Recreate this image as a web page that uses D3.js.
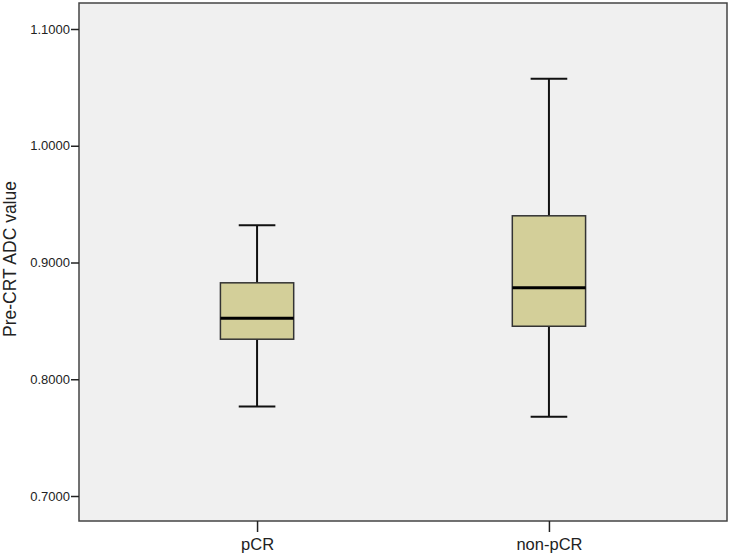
<!DOCTYPE html>
<html>
<head>
<meta charset="utf-8">
<script src="https://cdn.jsdelivr.net/npm/d3@7"></script>
<style>
  body { margin: 0; background: #fff; }
  svg { display: block; font-family: Arial, "Liberation Sans", sans-serif; }
</style>
</head>
<body>
<svg id="chart" width="732" height="557"></svg>
<script>
// groups and their box plot summaries
const groups = ["pCR", "non-pCR"];
const whiskerLow = [0.7767, 0.7678];
const q1 = [0.8343, 0.8454];
const median = [0.8523, 0.8783];
const q3 = [0.8826, 0.9400];
const whiskerHigh = [0.9320, 1.0573];
const yTicks = [0.7, 0.8, 0.9, 1.0, 1.1];

const svg = d3.select('#chart');
const plot = { left: 79, top: 3, right: 727, bottom: 521 };

const x = d3.scalePoint().domain(groups).range([plot.left, plot.right]).padding(0.61);
const y = d3.scaleLinear().domain([0.67859, 1.12227]).range([plot.bottom, plot.top]);

// plot background
svg.append('rect')
  .attr('x', plot.left).attr('y', plot.top)
  .attr('width', plot.right - plot.left).attr('height', plot.bottom - plot.top)
  .attr('fill', '#f0f0f0');

const boxW = x.step() * 0.251;
const capW = boxW / 2;

const data = groups.map((g, i) => ({
  g: g, lo: whiskerLow[i], q1: q1[i], med: median[i], q3: q3[i], hi: whiskerHigh[i]
}));

const box = svg.selectAll('.box').data(data).enter().append('g').attr('class', 'box');

// whiskers
box.append('line')
  .attr('x1', d => x(d.g)).attr('x2', d => x(d.g))
  .attr('y1', d => y(d.hi)).attr('y2', d => y(d.q3))
  .attr('stroke', '#111').attr('stroke-width', 2);
box.append('line')
  .attr('x1', d => x(d.g)).attr('x2', d => x(d.g))
  .attr('y1', d => y(d.q1)).attr('y2', d => y(d.lo))
  .attr('stroke', '#111').attr('stroke-width', 2);
// caps
['hi', 'lo'].forEach(k => {
  box.append('line')
    .attr('x1', d => x(d.g) - capW / 2).attr('x2', d => x(d.g) + capW / 2)
    .attr('y1', d => y(d[k])).attr('y2', d => y(d[k]))
    .attr('stroke', '#111').attr('stroke-width', 2);
});

box.append('rect')
  .attr('x', d => x(d.g) - boxW / 2)
  .attr('y', d => y(d.q3))
  .attr('width', boxW)
  .attr('height', d => y(d.q1) - y(d.q3))
  .attr('fill', '#d3cf99')
  .attr('stroke', '#333')
  .attr('stroke-width', 1.5);

box.append('line')
  .attr('x1', d => x(d.g) - boxW / 2).attr('x2', d => x(d.g) + boxW / 2)
  .attr('y1', d => y(d.med)).attr('y2', d => y(d.med))
  .attr('stroke', '#000').attr('stroke-width', 3);

// frame
svg.append('rect')
  .attr('x', plot.left).attr('y', plot.top)
  .attr('width', plot.right - plot.left).attr('height', plot.bottom - plot.top)
  .attr('fill', 'none').attr('stroke', '#444').attr('stroke-width', 1.5);

// y axis
const yAxis = svg.append('g')
  .attr('transform', 'translate(' + plot.left + ',0)')
  .call(d3.axisLeft(y).tickValues(yTicks).tickSize(8).tickPadding(1).tickFormat(d3.format('.4f')));
yAxis.select('.domain').remove();
yAxis.selectAll('line').attr('stroke', '#222').attr('stroke-width', 1.5);
yAxis.selectAll('text').attr('font-size', 13).attr('fill', '#222').attr('font-family', 'Arial, "Liberation Sans", sans-serif');

// x axis
const xAxis = svg.append('g')
  .attr('transform', 'translate(0,' + plot.bottom + ')')
  .call(d3.axisBottom(x).tickSize(11).tickPadding(6));
xAxis.select('.domain').remove();
xAxis.selectAll('line').attr('stroke', '#222').attr('stroke-width', 1.5);
xAxis.selectAll('text').attr('font-size', 16.5).attr('fill', '#222').attr('font-family', 'Arial, "Liberation Sans", sans-serif');

// y axis title
svg.append('text')
  .attr('transform', 'translate(16,259) rotate(-90)')
  .attr('text-anchor', 'middle')
  .attr('font-size', 17.5)
  .attr('fill', '#222')
  .text('Pre-CRT ADC value');
</script>
</body>
</html>
